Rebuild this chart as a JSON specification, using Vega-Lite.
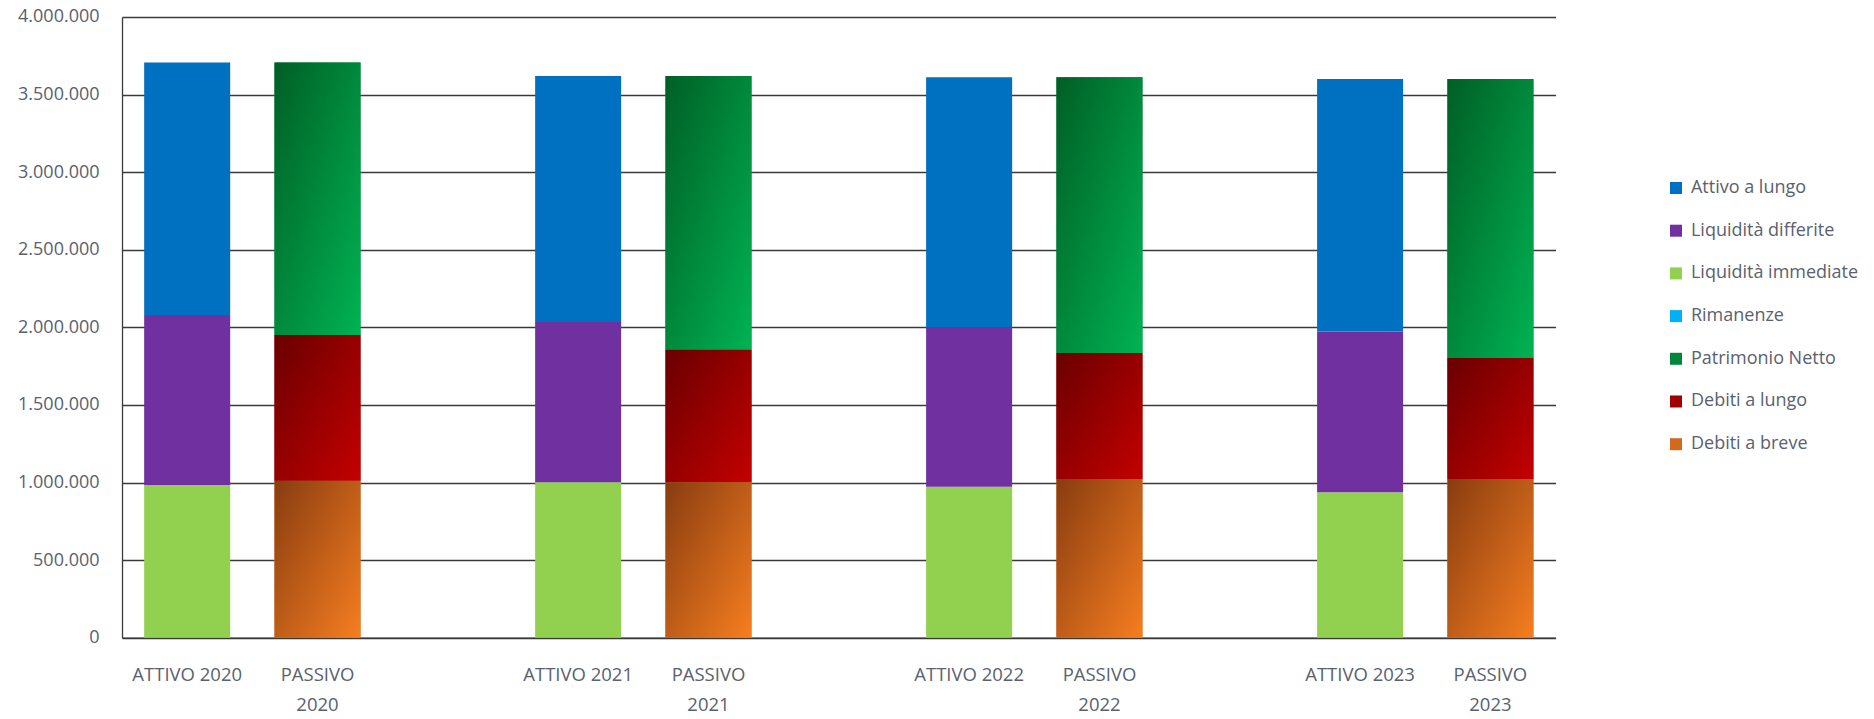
{
  "$schema": "https://vega.github.io/schema/vega-lite/v6.json",
  "autosize": {"type": "none"},
  "padding": {"left": 122, "top": 17, "right": 318, "bottom": 81},
  "width": 1433.6,
  "height": 620.7,
  "background": "#ffffff",
  "config": {
    "locale": {"number": {"decimal": ",", "thousands": ".", "grouping": [3], "currency": ["€", ""]}},
    "view": {"stroke": null},
    "font": "Open Sans",
    "axis": {"labelFont": "Open Sans", "labelFontSize": 18, "labelColor": "#59616f", "ticks": false, "tickSize": 0, "title": null}
  },
  "data": {
    "values": [
      {"bar": "ATTIVO 2020", "cat": "Rimanenze", "value": 0},
      {"bar": "ATTIVO 2020", "cat": "Liquidità immediate", "value": 984000},
      {"bar": "ATTIVO 2020", "cat": "Liquidità differite", "value": 1095000},
      {"bar": "ATTIVO 2020", "cat": "Attivo a lungo", "value": 1627000},
      {"bar": "PASSIVO 2020", "cat": "Debiti a breve", "value": 1011000},
      {"bar": "PASSIVO 2020", "cat": "Debiti a lungo", "value": 939000},
      {"bar": "PASSIVO 2020", "cat": "Patrimonio Netto", "value": 1756000},
      {"bar": "ATTIVO 2021", "cat": "Rimanenze", "value": 0},
      {"bar": "ATTIVO 2021", "cat": "Liquidità immediate", "value": 1001000},
      {"bar": "ATTIVO 2021", "cat": "Liquidità differite", "value": 1034000},
      {"bar": "ATTIVO 2021", "cat": "Attivo a lungo", "value": 1585000},
      {"bar": "PASSIVO 2021", "cat": "Debiti a breve", "value": 1001000},
      {"bar": "PASSIVO 2021", "cat": "Debiti a lungo", "value": 854000},
      {"bar": "PASSIVO 2021", "cat": "Patrimonio Netto", "value": 1765000},
      {"bar": "ATTIVO 2022", "cat": "Rimanenze", "value": 0},
      {"bar": "ATTIVO 2022", "cat": "Liquidità immediate", "value": 973000},
      {"bar": "ATTIVO 2022", "cat": "Liquidità differite", "value": 1030000},
      {"bar": "ATTIVO 2022", "cat": "Attivo a lungo", "value": 1609000},
      {"bar": "PASSIVO 2022", "cat": "Debiti a breve", "value": 1022000},
      {"bar": "PASSIVO 2022", "cat": "Debiti a lungo", "value": 812000},
      {"bar": "PASSIVO 2022", "cat": "Patrimonio Netto", "value": 1778000},
      {"bar": "ATTIVO 2023", "cat": "Rimanenze", "value": 0},
      {"bar": "ATTIVO 2023", "cat": "Liquidità immediate", "value": 938000},
      {"bar": "ATTIVO 2023", "cat": "Liquidità differite", "value": 1035000},
      {"bar": "ATTIVO 2023", "cat": "Attivo a lungo", "value": 1628000},
      {"bar": "PASSIVO 2023", "cat": "Debiti a breve", "value": 1022000},
      {"bar": "PASSIVO 2023", "cat": "Debiti a lungo", "value": 780000},
      {"bar": "PASSIVO 2023", "cat": "Patrimonio Netto", "value": 1799000}
    ]
  },
  "transform": [
    {"stack": "value", "groupby": ["bar"], "as": ["v0", "v1"]}
  ],
  "encoding": {
    "x": {
      "field": "bar", "type": "nominal",
      "scale": {
        "domain": ["ATTIVO 2020", "PASSIVO 2020", " ", "ATTIVO 2021", "PASSIVO 2021", "  ", "ATTIVO 2022", "PASSIVO 2022", "   ", "ATTIVO 2023", "PASSIVO 2023"],
        "paddingInner": 0.34, "paddingOuter": 0.17
      },
      "axis": {
        "labelAngle": 0, "labelPadding": 28, "labelLineHeight": 30, "labelFontSize": 18.5,
        "domain": true, "domainColor": "#3a3a3a", "domainWidth": 1.3, "grid": false,
        "labelExpr": "indexof(datum.value, 'PASSIVO') === 0 ? split(datum.value, ' ') : datum.value"
      }
    },
    "y": {
      "field": "v0", "type": "quantitative",
      "scale": {"domain": [0, 4000000], "nice": false, "zero": true},
      "axis": {
        "values": [0, 500000, 1000000, 1500000, 2000000, 2500000, 3000000, 3500000, 4000000],
        "format": ",d", "labelPadding": 23,
        "grid": true, "gridColor": "#3a3a3a", "gridWidth": 1.3,
        "domain": true, "domainColor": "#3a3a3a", "domainWidth": 1.3
      }
    },
    "y2": {"field": "v1"}
  },
  "layer": [
    {
      "mark": {"type": "bar"},
      "encoding": {
        "color": {
          "field": "cat", "type": "nominal",
          "scale": {
            "domain": ["Attivo a lungo", "Liquidità differite", "Liquidità immediate", "Rimanenze", "Patrimonio Netto", "Debiti a lungo", "Debiti a breve"],
            "range": ["#0070c0", "#7030a0", "#92d050", "#00b0f0", "#00873c", "#a00000", "#d2691e"]
          },
          "legend": {
            "title": null, "orient": "none", "legendX": 1545, "legendY": 162,
            "symbolType": "square", "symbolSize": 144, "symbolStrokeWidth": 0,
            "labelFont": "Open Sans", "labelFontSize": 18, "labelColor": "#59616f",
            "labelOffset": 6, "labelLimit": 400, "rowPadding": 24.7, "padding": 0
          }
        }
      }
    },
    {
      "transform": [{"filter": "datum.cat === 'Patrimonio Netto'"}],
      "mark": {"type": "bar", "fill": {"gradient": "linear", "x1": 0, "y1": 0, "x2": 1, "y2": 1, "stops": [{"offset": 0, "color": "#005f25"}, {"offset": 1, "color": "#00b353"}]}}
    },
    {
      "transform": [{"filter": "datum.cat === 'Debiti a lungo'"}],
      "mark": {"type": "bar", "fill": {"gradient": "linear", "x1": 0, "y1": 0, "x2": 1, "y2": 1, "stops": [{"offset": 0, "color": "#6a0000"}, {"offset": 1, "color": "#c40000"}]}}
    },
    {
      "transform": [{"filter": "datum.cat === 'Debiti a breve'"}],
      "mark": {"type": "bar", "fill": {"gradient": "linear", "x1": 0, "y1": 0, "x2": 1, "y2": 1, "stops": [{"offset": 0, "color": "#883c10"}, {"offset": 1, "color": "#f67e20"}]}}
    }
  ]
}
